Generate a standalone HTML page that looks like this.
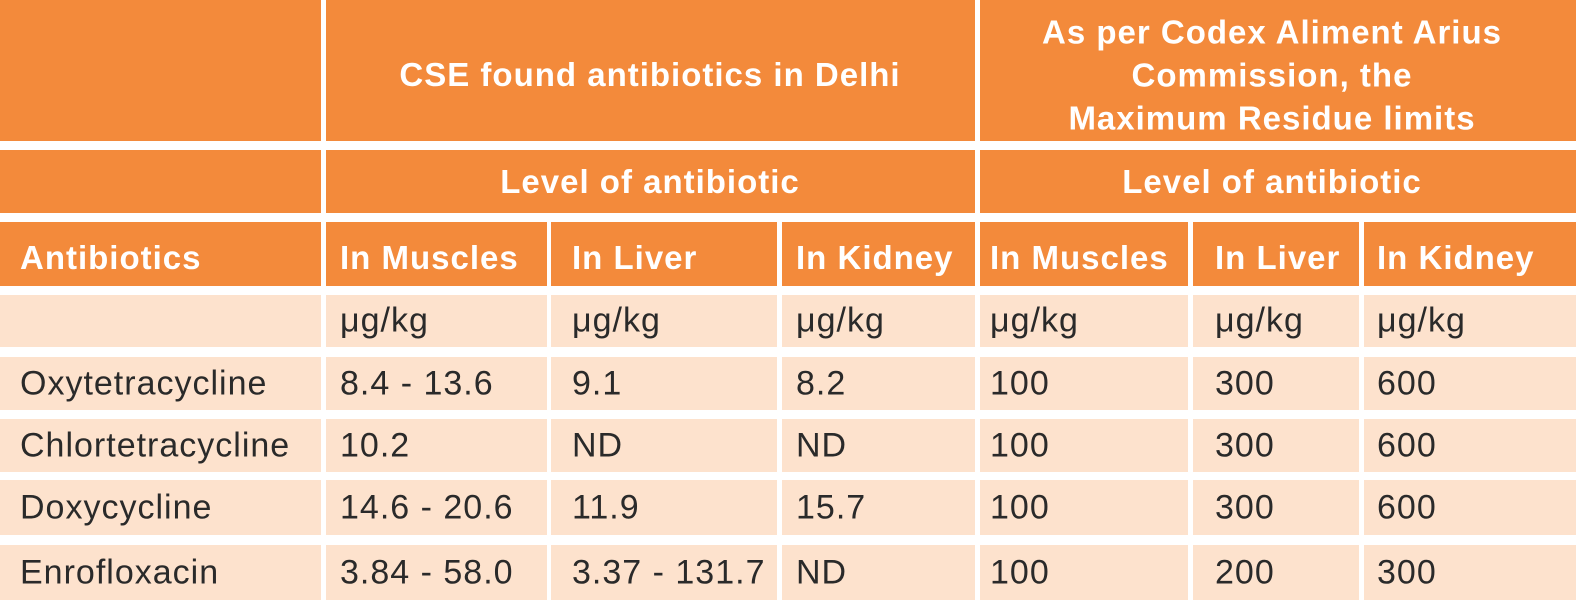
<!DOCTYPE html>
<html><head><meta charset="utf-8"><style>
body{margin:0;width:1576px;height:600px;background:#fff;position:relative;overflow:hidden;font-family:"Liberation Sans","DejaVu Sans",sans-serif}
.c{position:absolute}
.o{background:#F38A3B}
.l{background:#FDE2CD}
.t{position:absolute;white-space:nowrap;font-size:34px;letter-spacing:1px;color:#2a2a2a;transform:translateY(-50%)}
.h{color:#fff;font-weight:bold;font-size:33px;letter-spacing:1px}
.ctr{transform:translate(-50%,-50%);text-align:center}
</style></head><body>
<div class="c o" style="left:0;top:0;width:321px;height:141px"></div>
<div class="c o" style="left:326px;top:0;width:649px;height:141px"></div>
<div class="c o" style="left:980px;top:0;width:596px;height:141px"></div>
<div class="c o" style="left:0;top:150px;width:321px;height:63px"></div>
<div class="c o" style="left:326px;top:150px;width:649px;height:63px"></div>
<div class="c o" style="left:980px;top:150px;width:596px;height:63px"></div>
<div class="c o" style="left:0;top:222px;width:321px;height:64px"></div>
<div class="c o" style="left:326px;top:222px;width:221px;height:64px"></div>
<div class="c o" style="left:551px;top:222px;width:226px;height:64px"></div>
<div class="c o" style="left:782px;top:222px;width:193px;height:64px"></div>
<div class="c o" style="left:980px;top:222px;width:208px;height:64px"></div>
<div class="c o" style="left:1193px;top:222px;width:166px;height:64px"></div>
<div class="c o" style="left:1364px;top:222px;width:212px;height:64px"></div>
<div id="rows"></div>
<div class="t h ctr" style="left:650px;top:75px">CSE found antibiotics in Delhi</div>
<div class="t h ctr" style="left:1272px;top:75px;line-height:43px">As per Codex Aliment Arius<br>Commission, the<br>Maximum Residue limits</div>
<div class="t h ctr" style="left:650px;top:182px">Level of antibiotic</div>
<div class="t h ctr" style="left:1272px;top:182px">Level of antibiotic</div>
<div class="t h" style="left:20px;top:258px">Antibiotics</div>
<div class="t h" style="left:340px;top:258px">In Muscles</div>
<div class="t h" style="left:572px;top:258px">In Liver</div>
<div class="t h" style="left:796px;top:258px">In Kidney</div>
<div class="t h" style="left:990px;top:258px">In Muscles</div>
<div class="t h" style="left:1215px;top:258px">In Liver</div>
<div class="t h" style="left:1377px;top:258px">In Kidney</div>
<script>
var xs=[[0,321],[326,547],[551,777],[782,975],[980,1188],[1193,1359],[1364,1576]];
var tx=[20,340,572,796,990,1215,1377];
var ys=[[295,347],[357,410],[419,472],[480,535],[545,600]];
var data=[["","μg/kg","μg/kg","μg/kg","μg/kg","μg/kg","μg/kg"],
["Oxytetracycline","8.4 - 13.6","9.1","8.2","100","300","600"],
["Chlortetracycline","10.2","ND","ND","100","300","600"],
["Doxycycline","14.6 - 20.6","11.9","15.7","100","300","600"],
["Enrofloxacin","3.84 - 58.0","3.37 - 131.7","ND","100","200","300"]];
var h="";
for(var r=0;r<5;r++){for(var c=0;c<7;c++){
h+='<div class="c l" style="left:'+xs[c][0]+'px;top:'+ys[r][0]+'px;width:'+(xs[c][1]-xs[c][0])+'px;height:'+(ys[r][1]-ys[r][0])+'px"></div>';
h+='<div class="t" style="left:'+tx[c]+'px;top:'+((ys[r][0]+ys[r][1])/2)+'px">'+data[r][c]+'</div>';}}
document.getElementById("rows").innerHTML=h;
</script>
</body></html>
